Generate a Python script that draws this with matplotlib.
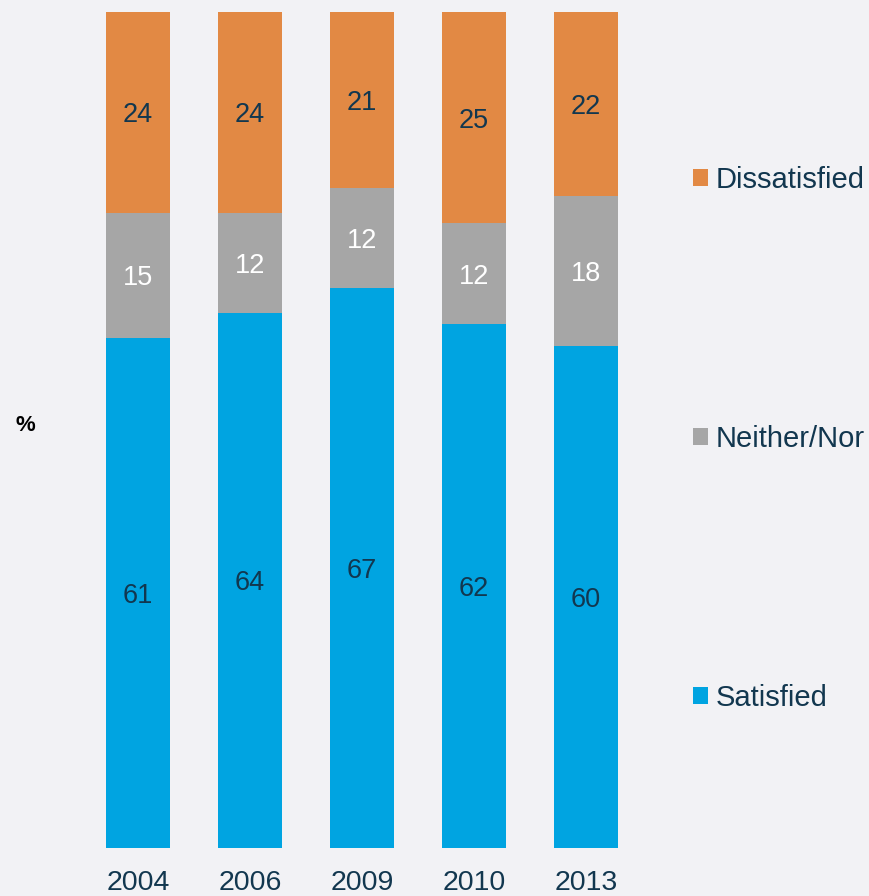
import matplotlib
matplotlib.use("Agg")
import matplotlib.pyplot as plt
from matplotlib.patches import Patch
import numpy as np

plt.rcParams['font.family'] = ['Liberation Sans', 'DejaVu Sans']

years = ["2004", "2006", "2009", "2010", "2013"]
satisfied = [61, 64, 67, 62, 60]
neither = [15, 12, 12, 12, 18]
dissatisfied = [24, 24, 21, 25, 22]

series_names = ["Satisfied", "Neither/Nor", "Dissatisfied"]
series_colors = ["#00a4e1", "#a6a6a6", "#e28944"]
label_colors = ["#12374f", "#ffffff", "#12374f"]
text_navy = "#12374f"

values = np.array([satisfied, neither, dissatisfied], dtype=float)
# 100% stacked: each column is scaled to its own total
shares = values / values.sum(axis=0) * 100

fig = plt.figure(figsize=(8.69, 8.96), dpi=100)
fig.patch.set_facecolor("#f2f2f5")
ax = fig.add_axes([82 / 869, 48 / 896, 560 / 869, 836 / 896])
ax.set_facecolor("none")

x = np.arange(len(years))
bottom = np.zeros(len(years))
handles = []
for i, (name, col) in enumerate(zip(series_names, series_colors)):
    ax.bar(x, shares[i], width=0.57, bottom=bottom, color=col,
           edgecolor="none", label=name)
    for xi, b, h, v in zip(x, bottom, shares[i], values[i]):
        ax.text(xi, b + h / 2, f"{v:.0f}", ha="center", va="center_baseline",
                fontsize=19.5, color=label_colors[i])
    bottom += shares[i]
    handles.append(Patch(facecolor=col, label=name))

ax.set_xlim(-0.5, len(years) - 0.5)
ax.set_ylim(0, 100)
ax.set_xticks(x)
ax.set_xticklabels(years, fontsize=20.5, color=text_navy)
ax.tick_params(axis="x", length=0, pad=16)
ax.set_yticks([])
for s in ax.spines.values():
    s.set_visible(False)

fig.text(25 / 869, 1 - 425 / 896, "%", fontsize=16, fontweight="bold",
         color="black", ha="center", va="center")

leg = fig.legend(handles=handles[::-1], loc="center left",
                 bbox_to_anchor=(693 / 869, 1 - 439 / 896),
                 frameon=False, fontsize=21, labelcolor=text_navy,
                 handlelength=0.52, handleheight=0.52, handletextpad=0.25,
                 labelspacing=7.93, borderpad=0, borderaxespad=0)

fig.savefig("out.png", dpi=100, facecolor=fig.get_facecolor())
